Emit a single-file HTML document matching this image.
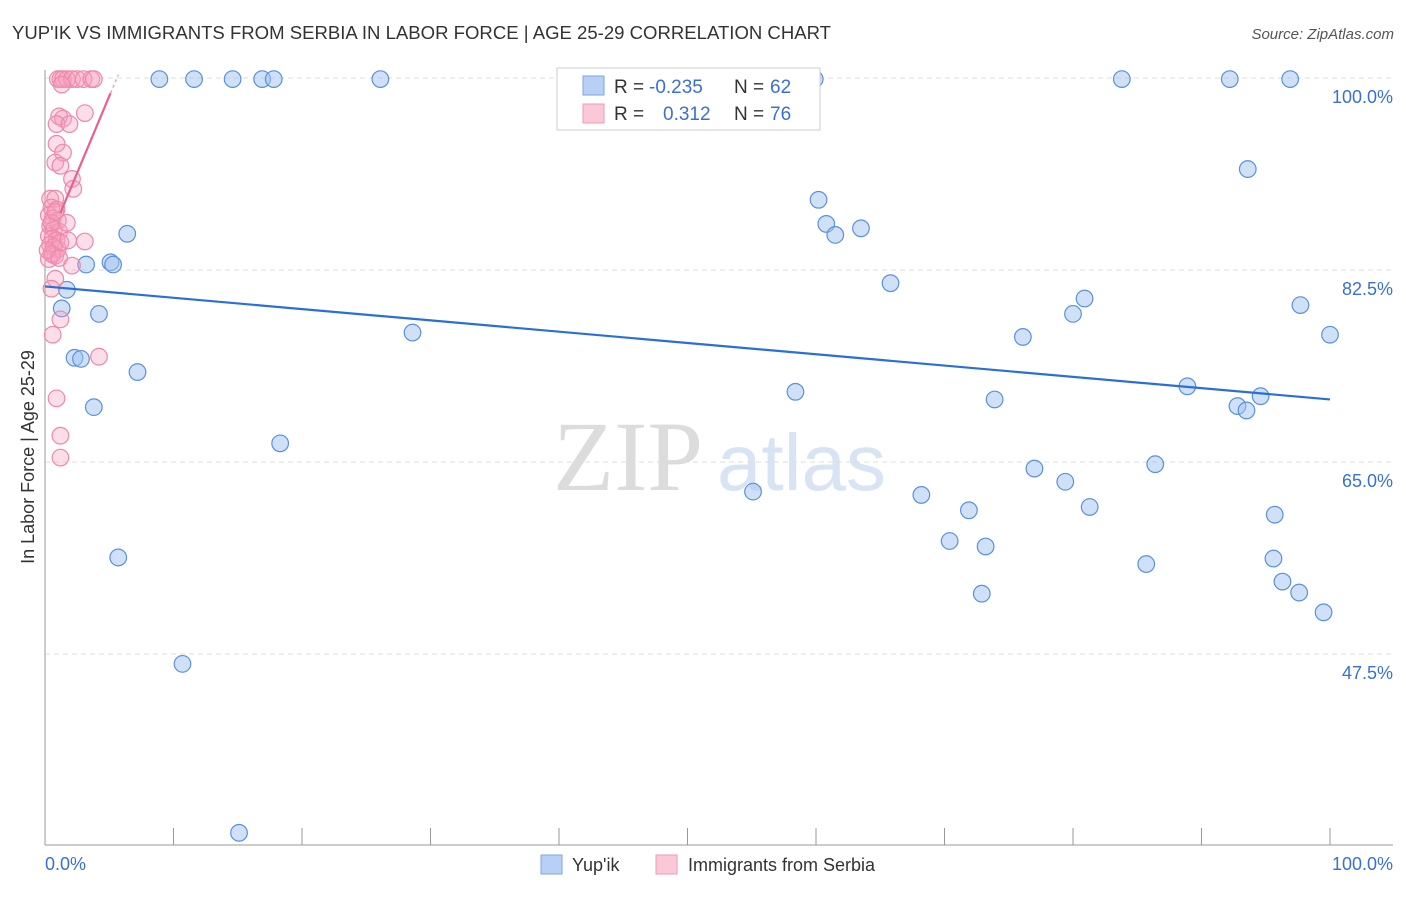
<!DOCTYPE html>
<html><head><meta charset="utf-8">
<style>
body{margin:0;background:#fff;font-family:"Liberation Sans",sans-serif;}
svg text{font-family:"Liberation Sans",sans-serif;}
</style></head>
<body>
<svg id="chart" width="1406" height="892" viewBox="0 0 1406 892" xmlns="http://www.w3.org/2000/svg">
<text x="12" y="39" font-size="18" fill="#333" textLength="819" lengthAdjust="spacingAndGlyphs">YUP'IK VS IMMIGRANTS FROM SERBIA IN LABOR FORCE | AGE 25-29 CORRELATION CHART</text>
<text x="1394" y="39" font-size="15" fill="#555" text-anchor="end" font-style="italic">Source: ZipAtlas.com</text>
<text x="553" y="490" font-size="100" fill="#dcdcdc" style="font-family:'Liberation Serif',serif">ZIP</text>
<text x="717" y="490" font-size="80" fill="#d8e3f4">atlas</text>
<g id="grid"></g>
<g id="axes"></g>
<g id="marks"></g>
<text transform="translate(34,457) rotate(-90)" font-size="18" fill="#333" text-anchor="middle">In Labor Force | Age 25-29</text>
<g>
<rect x="557" y="68" width="263" height="62" fill="#fff" stroke="#ccc"/>
<rect x="583" y="76" width="21" height="19" fill="#b8d0f5" stroke="#7aa6e8"/>
<rect x="583" y="104" width="21" height="19" fill="#fbc8d8" stroke="#ef9ab6"/>
<text x="614" y="93" font-size="19" fill="#333">R =</text>
<text x="649" y="93" font-size="19" fill="#3a6fd8">-0.235</text>
<text x="734" y="93" font-size="19" fill="#333">N =</text>
<text x="770" y="93" font-size="19" fill="#3a6fd8">62</text>
<text x="614" y="120" font-size="19" fill="#333">R =</text>
<text x="663" y="120" font-size="19" fill="#3a6fd8">0.312</text>
<text x="734" y="120" font-size="19" fill="#333">N =</text>
<text x="770" y="120" font-size="19" fill="#3a6fd8">76</text>
</g>
<g>
<rect x="541" y="855" width="21" height="19" fill="#b8d0f5" stroke="#7aa6e8"/>
<text x="572" y="871" font-size="18" fill="#333">Yup'ik</text>
<rect x="656" y="855" width="21" height="19" fill="#fbc8d8" stroke="#ef9ab6"/>
<text x="688" y="871" font-size="18" fill="#333">Immigrants from Serbia</text>
</g>
</svg>
<script>
const yTicks=[100,82.5,65,47.5];
const yTickLabels=["100.0%","82.5%","65.0%","47.5%"];
const xTickLabels=["0.0%","100.0%"];
const blueX=[8.9,11.6,14.6,16.9,17.8,26.1,50.0,59.9,83.8,92.2,96.9,93.6,60.2,60.8,61.5,63.5,6.4,3.2,5.1,5.3,1.7,1.3,4.2,2.3,2.8,7.2,3.8,28.6,18.3,5.7,10.7,15.1,65.8,58.4,76.1,80.0,80.9,73.9,88.9,92.8,93.5,94.6,97.7,100.0,55.1,68.2,77.0,79.4,81.3,86.4,71.9,70.4,73.2,72.9,85.7,95.7,95.6,96.3,97.6,99.5];
const blueY=[99.9,99.9,99.9,99.9,99.9,99.9,99.9,99.9,99.9,99.9,99.9,91.7,88.9,86.7,85.7,86.3,85.8,83.0,83.2,83.0,80.7,79.0,78.5,74.5,74.4,73.2,70.0,76.8,66.7,56.3,46.6,31.2,81.3,71.4,76.4,78.5,79.9,70.7,71.9,70.1,69.7,71.0,79.3,76.6,62.3,62.0,64.4,63.2,60.9,64.8,60.6,57.8,57.3,53.0,55.7,60.2,56.2,54.1,53.1,51.3];
const pinkX=[1.0,1.2,1.4,1.7,2.1,2.5,3.0,3.6,3.8,1.3,3.1,1.1,1.4,0.9,1.9,0.9,1.4,0.8,1.2,2.1,2.2,0.4,0.8,0.5,0.9,0.3,0.6,1.0,0.4,0.7,1.1,0.3,0.6,0.9,0.4,0.7,1.0,0.5,0.8,0.3,0.6,1.2,0.5,0.8,0.2,1.1,1.7,1.8,3.1,2.1,0.8,0.5,1.2,0.6,4.2,0.9,1.2,1.2];
const pinkY=[99.9,99.9,99.9,99.9,99.9,99.9,99.9,99.9,99.9,99.4,96.8,96.5,96.3,95.8,95.8,94.0,93.2,92.3,92.0,90.8,89.9,89.0,89.0,88.2,88.0,87.5,87.2,87.0,86.5,86.2,86.0,85.6,85.4,85.2,84.8,84.6,84.4,84.0,83.8,83.5,83.9,85.0,86.8,87.8,84.3,83.6,86.8,85.2,85.1,82.9,81.7,80.8,78.0,76.6,74.6,70.8,67.4,65.4];
const blueTrend=[81.0,70.7];
const pinkTrend=[87.7,100.3];
const NS="http://www.w3.org/2000/svg";
const X0=45,X1=1330,Y100=78,PXPER=192/17.5;
function sx(v){return X0+v*(X1-X0)/100;}
function sy(v){return Y100+(100-v)*PXPER;}
function mk(tag,attrs,parent){const e=document.createElementNS(NS,tag);for(const k in attrs)e.setAttribute(k,attrs[k]);parent.appendChild(e);return e;}
const grid=document.getElementById('grid'),axes=document.getElementById('axes'),marks=document.getElementById('marks');
yTicks.forEach((t,i)=>{
  const l=mk('line',{x1:45,x2:1393,y1:sy(t),y2:sy(t),stroke:'#ddd','stroke-dasharray':'5,4'},grid);
  
  
  const tx=mk('text',{x:1393,y:sy(t)+25,'font-size':18,fill:'#3a6fd8','text-anchor':'end'},axes);
  tx.textContent=yTickLabels[i];
  
  
});
mk('line',{x1:45,x2:45,y1:70,y2:845,stroke:'#999'},axes);
mk('line',{x1:45,x2:1393,y1:845,y2:845,stroke:'#999'},axes);
for(let i=0;i<=10;i++){
  const t=mk('line',{x1:sx(i*10),x2:sx(i*10),y1:828,y2:845,stroke:'#999'},axes);
  
  
}
[[0,'start',45],[100,'end',1393]].forEach((d,i)=>{
  const tx=mk('text',{x:d[2],y:870,'font-size':18,fill:'#3a6fd8','text-anchor':d[1]},axes);
  tx.textContent=xTickLabels[i];
  
  
});
blueX.forEach((x,i)=>{
  const c=mk('circle',{cx:sx(x),cy:sy(blueY[i]),r:8.3,fill:'rgba(160,195,240,0.5)',stroke:'#5b8fe0','stroke-width':1.2},marks);
  
  
});
pinkX.forEach((x,i)=>{
  const c=mk('circle',{cx:sx(x),cy:sy(pinkY[i]),r:8.3,fill:'rgba(245,160,190,0.35)',stroke:'#ee88aa','stroke-width':1.2},marks);
  
  
});
const bl=mk('line',{x1:sx(0),y1:sy(blueTrend[0]),x2:sx(100),y2:sy(blueTrend[1]),stroke:'#2a6fd6','stroke-width':2.2},marks);


const px0=1.2,px1=5.7,pm=5.1;
const pyAt=x=>pinkTrend[0]+(x-px0)*(pinkTrend[1]-pinkTrend[0])/(px1-px0);
const pl=mk('line',{x1:sx(px0),y1:sy(pyAt(px0)),x2:sx(pm),y2:sy(pyAt(pm)),stroke:'#e8608e','stroke-width':2.2},marks);


const pd=mk('line',{x1:sx(pm),y1:sy(pyAt(pm)),x2:sx(px1),y2:sy(pyAt(px1)),stroke:'#f0a0bc','stroke-width':1.5,'stroke-dasharray':'3,3'},marks);


</script>
</body></html>
